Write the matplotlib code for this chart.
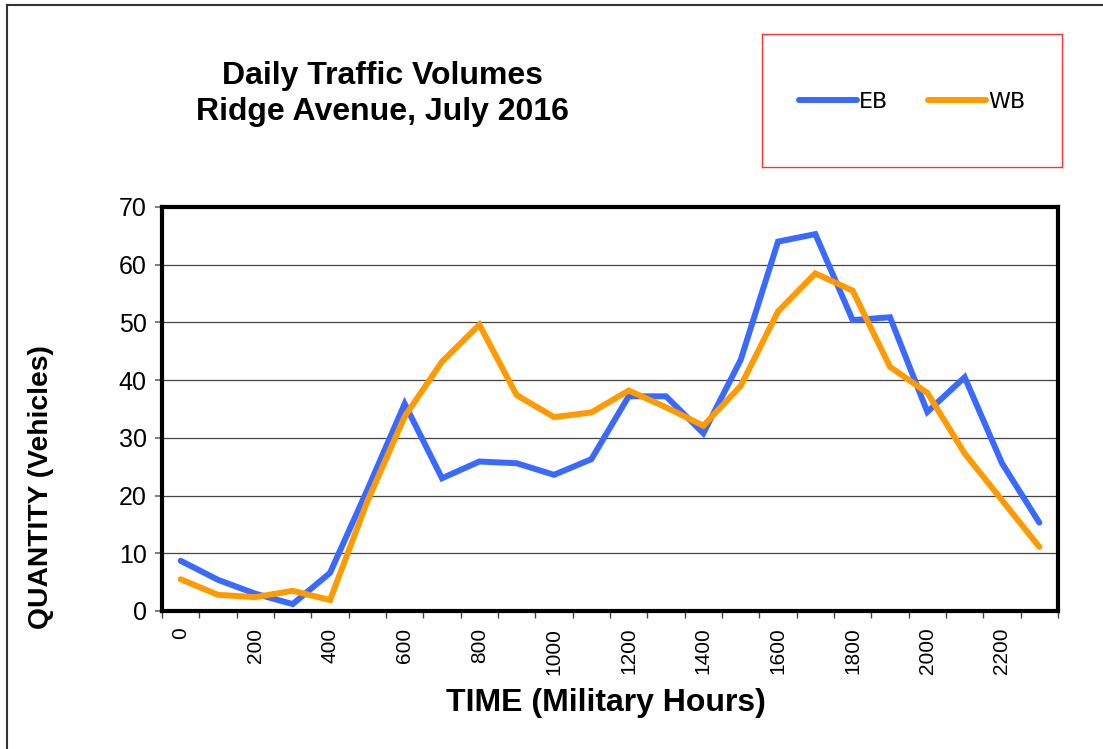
import matplotlib.pyplot as plt
from matplotlib.lines import Line2D

plt.rcParams['font.family'] = ['Liberation Sans', 'DejaVu Sans']

# Hourly counts, Ridge Avenue July 2016
hours = ['0', '100', '200', '300', '400', '500', '600', '700', '800', '900', '1000', '1100',
         '1200', '1300', '1400', '1500', '1600', '1700', '1800', '1900', '2000', '2100', '2200', '2300']
eb = [8.7, 5.4, 3.0, 1.2, 6.6, 21.0, 35.9, 23.0, 25.9, 25.6, 23.6, 26.3,
      37.2, 37.2, 30.8, 43.5, 64.0, 65.3, 50.4, 50.9, 34.5, 40.5, 25.6, 15.3]
wb = [5.5, 2.8, 2.4, 3.5, 1.9, 19.0, 33.7, 43.2, 49.6, 37.4, 33.6, 34.4,
      38.2, 35.3, 32.1, 39.0, 51.9, 58.5, 55.5, 42.3, 37.8, 27.3, 19.2, 11.1]
yticks = [0, 10, 20, 30, 40, 50, 60, 70]

W, H = 1103, 749
fig = plt.figure(figsize=(W / 100, H / 100), dpi=100)
ax = fig.add_axes([162 / W, 1 - 611 / H, 896 / W, 404 / H])

x = range(len(hours))
ax.plot(x, eb, color='#3a69ff', lw=4.3, solid_joinstyle='miter', solid_capstyle='round', zorder=3)
ax.plot(x, wb, color='#ff9a00', lw=4.3, solid_joinstyle='miter', solid_capstyle='round', zorder=4)

ax.set_xlim(-0.5, len(hours) - 0.5)
ax.set_ylim(0, 70)
ax.set_yticks(yticks)
ax.tick_params(axis='y', labelsize=18, length=5, width=1.2, color='#666666', pad=6)
for y in yticks[1:-1]:
    ax.axhline(y, color='#444444', lw=0.9, zorder=1)

ax.set_xticks(list(x)[::2])
ax.set_xticklabels(hours[::2], rotation=90, fontsize=15)
ax.set_xticks([i - 0.5 for i in range(len(hours) + 1)], minor=True)
ax.tick_params(axis='x', which='major', length=0, pad=12)
ax.tick_params(axis='x', which='minor', length=5, width=1, color='#444444')

for s in ax.spines.values():
    s.set_linewidth(3)
    s.set_color('black')

ax.set_ylabel('QUANTITY (Vehicles)', fontsize=20.3, fontweight='bold')
ax.yaxis.set_label_coords(-0.121, 0.307)
ax.set_xlabel('TIME (Military Hours)', fontsize=23, fontweight='bold')
ax.xaxis.set_label_coords(0.495, -0.19)

fig.text(382 / W, 1 - 94 / H, 'Daily Traffic Volumes\nRidge Avenue, July 2016',
         ha='center', va='center', fontsize=23, fontweight='bold', linespacing=1.25)

# legend box
lax = fig.add_axes([762 / W, 1 - 167 / H, 300 / W, 133 / H])
lax.set_xticks([])
lax.set_yticks([])
for s in lax.spines.values():
    s.set_color('#ff3333')
    s.set_linewidth(1)
handles = [Line2D([], [], color='#3a69ff', lw=4.3, solid_capstyle='round'),
           Line2D([], [], color='#ff9a00', lw=4.3, solid_capstyle='round')]
lax.legend(handles, ['EB', 'WB'], loc='center', ncol=2, frameon=False,
           prop={'family': 'DejaVu Sans', 'size': 16}, handlelength=2.6,
           handletextpad=0.1, columnspacing=1.8, bbox_to_anchor=(0.5, 0.49))

# outer border
fig.add_artist(Line2D([7 / W, 7 / W], [0, 1 - 5 / H], color='#333333', lw=1.5))
fig.add_artist(Line2D([7 / W, 1], [1 - 5 / H, 1 - 5 / H], color='#333333', lw=1.5))

fig.savefig('out.png', dpi=100)
